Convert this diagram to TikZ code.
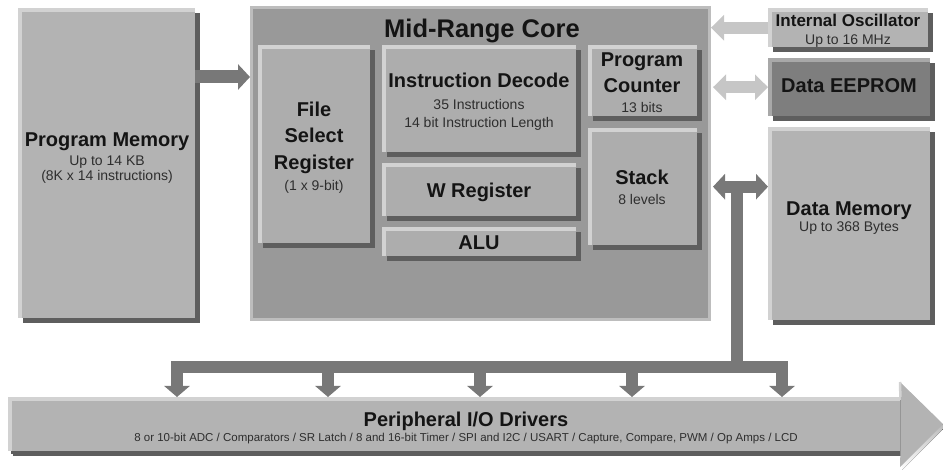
\documentclass[tikz,border=0pt]{standalone}
\usepackage{fontspec}
\setmainfont{Liberation Sans}
\usetikzlibrary{arrows.meta,shadows,calc}
\definecolor{boxfill}{HTML}{B3B3B3}
\definecolor{corefill}{HTML}{999999}
\definecolor{corerim}{HTML}{BDBDBD}
\definecolor{innerfill}{HTML}{ADADAD}
\definecolor{eepfill}{HTML}{7E7E7E}
\definecolor{hilite}{HTML}{D2D2D2}
\definecolor{shade}{HTML}{5E5E5E}
\definecolor{darkarr}{HTML}{787878}
\definecolor{lightarr}{HTML}{C6C6C6}
\definecolor{txtdark}{HTML}{141414}
\definecolor{txtsoft}{HTML}{2E2E2E}
\newcommand{\mybig}{\fontsize{20}{22}\selectfont\bfseries}
\newcommand{\mytitle}{\fontsize{25.5}{28}\selectfont\bfseries}
\newcommand{\mymid}{\fontsize{17}{19}\selectfont\bfseries}
\newcommand{\mysmall}{\fontsize{14}{16}\selectfont}
\newcommand{\mytiny}{\fontsize{11.5}{13}\selectfont}
\begin{document}
\begin{tikzpicture}[x=1pt,y=-1pt,
  blk/.style={draw=none, fill=boxfill, inner sep=0pt, anchor=north west,
    general shadow={fill=shade, shadow xshift=5pt, shadow yshift=-5pt},
    path picture={\draw[hilite, line width=8pt]
      (path picture bounding box.south west) -- (path picture bounding box.north west)
      -- (path picture bounding box.north east);}},
  inner/.style={blk, fill=innerfill},
  tb/.style={anchor=base, inner sep=0pt, text=txtdark, font=\mybig},
  ts/.style={anchor=base, inner sep=0pt, text=txtsoft, font=\mysmall},
  darkarrow/.style={draw=darkarr, line width=13pt, -{Triangle[width=25pt,length=12pt]}},
  darkdbl/.style={draw=darkarr, line width=12pt, {Triangle[width=25pt,length=12pt]}-{Triangle[width=25pt,length=12pt]}},
  lightarrow/.style={draw=lightarr, line width=12pt, -{Triangle[width=25pt,length=13pt]}},
  lightdbl/.style={draw=lightarr, line width=12pt, {Triangle[width=25pt,length=13pt]}-{Triangle[width=25pt,length=13pt]}},
  busline/.style={draw=darkarr, line width=12pt},
  busarrow/.style={draw=darkarr, line width=12pt, -{Triangle[width=25pt,length=11pt]}}
]
\useasboundingbox (0,0) rectangle (943,470);

% ---------------- Program memory ----------------
\node[blk, minimum width=177pt, minimum height=310pt] (pm) at (18,8) {};
\node[tb] (pmt1) at (107,147) {Program Memory};
\node[ts] (pmt2) at (107,166) {Up to 14 KB};
\node[ts] (pmt3) at (107,181) {(8K x 14 instructions)};

% ---------------- Core ----------------
\node[draw=corerim, line width=3pt, fill=corefill, inner sep=0pt, anchor=north west,
      minimum width=458pt, minimum height=312pt] (core) at (250,6) {};
\node[anchor=base, inner sep=0pt, text=txtdark, font=\mytitle] (coret) at (482,38) {Mid-Range Core};

\node[inner, minimum width=112pt, minimum height=198pt] (fsr) at (258,45) {};
\node[tb] (fsrt1) at (314,117) {File};
\node[tb] (fsrt2) at (314,143) {Select};
\node[tb] (fsrt3) at (314,170) {Register};
\node[ts] (fsrt4) at (314,191) {(1 x 9-bit)};

\node[inner, minimum width=194pt, minimum height=107pt] (idec) at (382,45) {};
\node[tb] (idect1) at (479,88) {Instruction Decode};
\node[ts] (idect2) at (479,110) {35 Instructions};
\node[ts] (idect3) at (479,128) {14 bit Instruction Length};

\node[inner, minimum width=194pt, minimum height=53pt] (wreg) at (382,163) {};
\node[tb] (wregt) at (479,198) {W Register};

\node[inner, minimum width=194pt, minimum height=29pt] (alu) at (382,227) {};
\node[tb] (alut) at (479,250) {ALU};

\node[inner, minimum width=109pt, minimum height=71pt] (pc) at (588,45) {};
\node[tb] (pct1) at (642,67) {Program};
\node[tb] (pct2) at (642,93) {Counter};
\node[ts] (pct3) at (642,113) {13 bits};

\node[inner, minimum width=109pt, minimum height=117pt] (stack) at (588,128) {};
\node[tb] (stackt1) at (642,185) {Stack};
\node[ts] (stackt2) at (642,205) {8 levels};

% ---------------- Right column ----------------
\node[blk, minimum width=160pt, minimum height=39pt] (osc) at (768,8) {};
\node[anchor=base, inner sep=0pt, text=txtdark, font=\mymid] (osct1) at (848,26.5) {Internal Oscillator};
\node[ts] (osct2) at (848,45) {Up to 16 MHz};

\node[blk, fill=eepfill, minimum width=162pt, minimum height=58pt,
      path picture={\draw[boxfill!80!eepfill, line width=8pt]
      (path picture bounding box.south west) -- (path picture bounding box.north west)
      -- (path picture bounding box.north east);}] (eep) at (768,58) {};
\node[tb] (eept) at (849,93) {Data EEPROM};

\node[blk, minimum width=162pt, minimum height=193pt] (dm) at (768,127) {};
\node[tb] (dmt1) at (849,216) {Data Memory};
\node[ts] (dmt2) at (849,231.5) {Up to 368 Bytes};

% ---------------- Peripheral I/O arrow ----------------
\node[blk, general shadow={fill=shade, shadow xshift=3pt, shadow yshift=-3pt},
      minimum width=892pt, minimum height=54pt] (io) at (8,397) {};
\fill[shade] ([xshift=2pt,yshift=-3pt]io.north east) -- (902,385) -- (945,427) -- (902,470) -- ([xshift=2pt,yshift=-3pt]io.south east) -- cycle;
\fill[boxfill] (io.north east) -- (900,382) -- (943,424) -- (900,467) -- (io.south east) -- cycle;
\draw[hilite, line width=2.5pt] (io.north east) -- (900,382);
\node[tb] (iot1) at (466,426.5) {Peripheral I/O Drivers};
\node[anchor=base, inner sep=0pt, text=txtsoft, font=\mytiny] (iot2) at (466,442) {8 or 10-bit ADC / Comparators / SR Latch / 8 and 16-bit Timer / SPI and I2C / USART / Capture, Compare, PWM / Op Amps / LCD};

% ---------------- Connectors ----------------
\coordinate (pmA) at (195,77);
\draw[darkarrow] (pmA) -- (pmA -| core.west);

\draw[lightarrow] (osc.west) -- (osc.west -| core.east);
\draw[lightdbl, shorten <=2pt] (eep.west -| core.east) -- (eep.west);
\draw[darkdbl, shorten <=2pt] (stack.center -| core.east) -- (stack.center -| dm.west);

\coordinate (bt) at (737,187);
\coordinate (bj) at (737,367);
\coordinate (bl) at (171,367);
\coordinate (br) at (788,367);
\coordinate (d1) at (177,362);
\coordinate (d2) at (328,362);
\coordinate (d3) at (480,362);
\coordinate (d4) at (632,362);
\coordinate (d5) at (782,362);
\draw[busline] (bt) -- (bj);
\draw[busline] (bl) -- (br);
\foreach \d in {d1,d2,d3,d4,d5}
  \draw[busarrow] (\d) -- (\d |- io.north);
\end{tikzpicture}
\end{document}
